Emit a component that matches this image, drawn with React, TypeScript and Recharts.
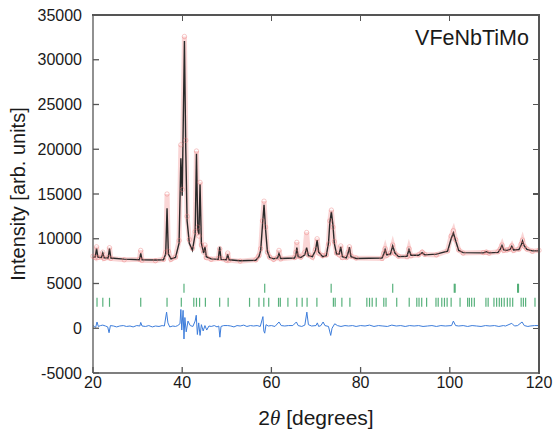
import {
  ComposedChart,
  Line,
  Scatter,
  XAxis,
  YAxis,
  Label,
} from "recharts";

// 2theta grid (deg) shared by the observed and calculated profiles
const tth = [
  20.0, 20.5, 20.8, 21.1, 21.9, 22.2, 22.5, 23.4, 23.7, 24.0, 27.0, 30.4, 30.7, 31.0,
  34.0, 35.8, 36.3, 36.6, 36.9, 37.5, 38.5, 39.3, 39.7, 40.0, 40.5, 40.8, 41.1, 41.6,
  42.3, 42.9, 43.2, 43.5, 43.75, 44.0, 44.3, 44.8, 45.1, 45.4, 46.5, 48.1, 48.4, 48.7,
  49.9, 50.2, 50.5, 53.0, 56.5, 57.2, 57.6, 58.0, 58.35, 58.7, 59.1, 59.6, 60.5, 61.4,
  61.7, 62.1, 65.2, 65.5, 65.7, 66.0, 66.6, 67.5, 67.9, 68.3, 69.2, 69.9, 70.25, 70.6,
  71.5, 72.3, 72.8, 73.1, 73.45, 73.8, 74.1, 74.6, 75.2, 75.55, 75.9, 76.8, 77.2, 77.5,
  77.85, 79.0, 84.8, 85.2, 85.5, 85.9, 86.7, 87.2, 87.7, 88.5, 90.4, 90.85, 91.3, 93.0,
  93.8, 94.4, 97.0, 99.5, 100.3, 100.8, 101.3, 102.0, 103.0, 107.5, 108.2, 108.8, 110.8,
  111.3, 111.7, 112.1, 112.8, 113.5, 113.9, 114.3, 115.5, 116.0, 116.3, 116.7, 117.3,
  118.5, 120.0,
];

const icalc = [
  7950, 7950, 8900, 7950, 7900, 8400, 7880, 7850, 8900, 7850, 7720, 7650, 8350, 7650,
  7620, 7650, 8300, 13400, 8300, 7750, 7900, 9500, 19000, 14800, 32100, 20000, 12000, 9500,
  8700, 10500, 19500, 11000, 10500, 16100, 9500, 8400, 9100, 8000, 7750, 7700, 9100, 7700,
  7650, 8250, 7650, 7550, 7600, 8000, 8700, 11500, 13800, 11000, 8600, 7900, 7750, 7850,
  8350, 7800, 7850, 8200, 9000, 8000, 7900, 8200, 9000, 8100, 8000, 8700, 9850, 8500,
  8000, 8100, 9500, 11800, 13000, 11500, 9500, 8300, 8300, 9100, 8000, 7850, 8400, 9050,
  8000, 7800, 7850, 8300, 8800, 8200, 8300, 9200, 8400, 8000, 8050, 8800, 8150, 8150,
  8450, 8200, 8280, 8600, 10000, 10650, 9800, 8700, 8450, 8420, 8550, 8420, 8480,
  8800, 9250, 8750, 8700, 8800, 9150, 8750, 8800, 9300, 9750, 9200, 8800,
  8650, 8650,
];

const iobs = [
  8050, 7900, 9100, 7900, 7950, 8500, 7800, 7900, 9000, 7800, 7650, 7700, 8700, 7600,
  7550, 7700, 8500, 15000, 8600, 7700, 7950, 9800, 20500, 15500, 32600, 21000, 12500, 9900,
  8900, 10800, 19800, 11300, 10300, 16300, 9300, 8500, 9300, 7900, 7700, 7800, 8900, 7800,
  7600, 8400, 7600, 7500, 7650, 8100, 8900, 12000, 14200, 11300, 8500, 7950, 7700, 7900,
  8700, 7750, 7900, 8500, 9600, 8050, 7950, 8500, 10700, 8200, 7950, 8800, 10000, 8400,
  8100, 8200, 9400, 12000, 13200, 11300, 9700, 8400, 8200, 9200, 7900, 7900, 8500, 9100,
  8050, 7850, 7800, 8400, 8900, 8150, 8400, 9300, 8350, 8050, 8000, 8900, 8100, 8200,
  8500, 8250, 8200, 8650, 10300, 10900, 9900, 8750, 8400, 8450, 8500, 8400, 8550,
  8850, 9300, 8700, 8750, 8850, 9200, 8700, 8850, 9400, 9850, 9150, 8850,
  8600, 8700,
];

// difference curve (obs - calc)
const diffTth = [
  20.0, 20.3, 20.6, 20.9, 21.2, 21.7, 22.2, 22.8, 23.3, 23.6, 23.9, 24.6, 25.3, 26.0,
  26.8, 27.5, 28.3, 29.0, 29.8, 30.5, 30.7, 31.0, 31.8, 32.5, 33.3, 34.0, 34.8, 35.5,
  36.0, 36.5, 36.8, 37.2, 37.9, 38.5, 39.0, 39.5, 39.7, 39.9, 40.2, 40.4, 40.6, 40.9,
  41.3, 41.8, 42.4, 42.9, 43.15, 43.4, 43.7, 44.0, 44.3, 44.7, 45.1, 45.5, 46.0, 46.5,
  47.2, 47.8, 48.2, 48.45, 48.7, 49.3, 50.2, 50.9, 51.6, 52.3, 53.0, 53.8, 54.5, 55.3,
  56.0, 56.8, 57.5, 58.1, 58.3, 58.5, 58.8, 59.3, 60.0, 60.8, 61.7, 62.2, 63.0, 63.8,
  64.8, 65.6, 66.0, 66.8, 67.5, 67.95, 68.3, 69.0, 70.0, 70.3, 70.6, 71.1, 71.6, 72.0,
  72.8, 73.3, 73.6, 74.2, 74.8, 75.6, 76.5, 77.3, 78.2, 79.0, 80.0, 81.0, 82.0, 83.0,
  84.0, 85.0, 86.0, 87.0, 88.0, 89.0, 90.0, 91.0, 92.0, 93.0, 94.0, 95.0, 96.0, 97.0,
  98.0, 99.0, 100.4, 100.8, 101.3, 102.0, 103.0, 104.0, 105.0, 106.0, 107.0, 108.0,
  109.0, 110.0, 111.0, 112.0, 112.5, 113.9, 114.5, 115.2, 116.2, 116.7, 117.5, 118.0,
  119.0, 120.0,
];
const diffVal = [
  300, 200, 100, 700, 200, 300, 350, 250, 150, -500, 300, 250, 150, 250,
  300, 200, 250, 150, 300, 250, 650, 250, 200, 300, 150, 250, 200, 300,
  250, 1800, 600, 150, 250, 200, 300, 500, 2100, -200, 2000, -1200, 1200, -400,
  800, 300, 200, 800, 1450, -700, 600, -800, 400, -300, 300, -200, 250, 200,
  300, 150, 250, -1000, 200, 300, 300, 250, 150, 300, 250, 350, 200, 300,
  250, 300, 200, 1300, -300, -550, 400, 250, 300, 200, 700, 300, 250, 300,
  300, 700, 300, 200, 350, 1800, 400, 250, 300, 600, 200, 300, 700, 300,
  200, -800, 0, 500, 300, 200, 300, 250, 300, 200, 300, 250, 350, 200,
  300, 250, 200, 350, 250, 300, 200, 300, 250, 300, 200, 250, 300, 200,
  300, 250, 300, 800, 300, 250, 300, 200, 300, 250, 200, 300,
  250, 300, 200, 300, 250, 550, 250, 300, 700, 300, 200, 250,
  300, 300,
];

// Bragg reflection positions
const phase1Pos = [40.4, 58.5, 73.4, 87.2, 101.0, 101.2, 115.2, 115.4];
const phase2Pos = [
  20.9, 22.2, 23.7, 30.7, 36.6, 39.8, 42.6, 43.2, 43.9, 45.2, 48.4, 50.3, 55.1, 57.2,
  58.3, 59.4, 61.6, 62.0, 63.7, 65.7, 66.9, 68.0, 70.2, 73.9, 74.3, 75.8, 77.6, 81.4,
  82.0, 82.6, 83.5, 85.2, 85.7, 88.1, 90.9, 92.6, 93.1, 93.7, 94.8, 96.9, 97.4, 98.2,
  98.8, 99.4, 100.3, 102.3, 104.0, 104.4, 104.9, 105.5, 108.1, 108.6, 109.9, 110.5,
  111.1, 111.6, 112.2, 112.9, 113.5, 114.1, 116.0, 116.5, 117.0, 119.1,
];
const phase1Level = 4470;
const phase2Level = 2900;

const xTicks = [20, 40, 60, 80, 100, 120];
const yTicks = [-5000, 0, 5000, 10000, 15000, 20000, 25000, 30000, 35000];
const X_MIN = 20;
const X_MAX = 120;
const Y_MIN = -5000;
const Y_MAX = 35000;

const profileData = tth.map((t, i) => ({ tth: t, obs: iobs[i], calc: icalc[i] }));
const diffData = diffTth.map((t, i) => ({ tth: t, diff: diffVal[i] }));
const phase1Data = phase1Pos.map((t) => ({ tth: t, y: phase1Level }));
const phase2Data = phase2Pos.map((t) => ({ tth: t, y: phase2Level }));

const W = 557;
const H = 432;
const MARGIN = { top: 15, right: 18, bottom: 0, left: 0 };
const X_AXIS_H = 59;
const Y_AXIS_W = 93;
// plot box, from the margins and axis sizes above
const PL = MARGIN.left + Y_AXIS_W;
const PR = W - MARGIN.right;
const PT = MARGIN.top;
const PB = H - MARGIN.bottom - X_AXIS_H;

const FONT = "'Liberation Sans', Arial, sans-serif";
const AXIS = "#555";
const TEXT = "#1a1a1a";
const TICK_LEN = 6;

// inward ticks: tickSize is 0, so the axis line sits tickMargin away from the label anchor
const BottomTick = (p: any) => (
  <g>
    <line x1={p.x} x2={p.x} y1={p.y - 4} y2={p.y - 4 - TICK_LEN} stroke={AXIS} strokeWidth={1.3} />
    <text x={p.x} y={p.y} dy="0.71em" textAnchor="middle" fontSize={16} fill={TEXT} fontFamily={FONT}>
      {p.payload.value}
    </text>
  </g>
);
const LeftTick = (p: any) => (
  <g>
    <line x1={p.x + 11} x2={p.x + 11 + TICK_LEN} y1={p.y} y2={p.y} stroke={AXIS} strokeWidth={1.3} />
    <text x={p.x} y={p.y} dy="0.355em" textAnchor="end" fontSize={16} fill={TEXT} fontFamily={FONT}>
      {p.payload.value}
    </text>
  </g>
);

const BraggTick = (props: any) => {
  const { cx, cy } = props;
  return (
    <line
      x1={cx}
      x2={cx}
      y1={cy - 4.5}
      y2={cy + 4.5}
      stroke="#2e9e5b"
      strokeOpacity={0.8}
      strokeWidth={1.2}
    />
  );
};

const px = (t: number) => PL + ((t - X_MIN) / (X_MAX - X_MIN)) * (PR - PL);
const py = (v: number) => PB - ((v - Y_MIN) / (Y_MAX - Y_MIN)) * (PB - PT);

// box frame (top and right edges) with mirrored inward ticks, as plain html boxes
function Frame() {
  const bar = { position: "absolute" as const, background: AXIS, pointerEvents: "none" as const };
  return (
    <>
      <div style={{ ...bar, left: PL - 1, top: PT - 1, width: PR - PL + 2, height: 1.5 }} />
      <div style={{ ...bar, left: PR - 0.75, top: PT - 1, width: 1.5, height: PB - PT + 2 }} />
      {xTicks.slice(1, -1).map((t) => (
        <div key={"t" + t} style={{ ...bar, left: px(t) - 0.65, top: PT, width: 1.3, height: TICK_LEN }} />
      ))}
      {yTicks.slice(1, -1).map((v) => (
        <div key={"r" + v} style={{ ...bar, left: PR - TICK_LEN, top: py(v) - 0.65, width: TICK_LEN, height: 1.3 }} />
      ))}
    </>
  );
}

export default function App() {
  return (
    <div style={{ position: "relative", width: W, height: H }}>
      <style>{"body{margin:0}"}</style>
      <ComposedChart width={W} height={H} margin={MARGIN} style={{ fontFamily: FONT }}>
        <XAxis
          dataKey="tth"
          type="number"
          domain={[X_MIN, X_MAX]}
          ticks={xTicks}
          height={X_AXIS_H}
          tickSize={0}
          tickMargin={4}
          stroke={AXIS}
          strokeWidth={1.3}
          tick={BottomTick}
        >
          <Label
            content={(p: any) => {
              const vb = p.viewBox;
              return (
                <text
                  x={vb.x + vb.width / 2}
                  y={vb.y + 52}
                  textAnchor="middle"
                  fontSize={21}
                  fill={TEXT}
                  fontFamily={FONT}
                >
                  <tspan>2</tspan>
                  <tspan fontStyle="italic" fontFamily="'Liberation Serif', serif">
                    θ
                  </tspan>
                  <tspan> [degrees]</tspan>
                </text>
              );
            }}
          />
        </XAxis>
        <YAxis
          type="number"
          domain={[Y_MIN, Y_MAX]}
          ticks={yTicks}
          width={Y_AXIS_W}
          tickSize={0}
          tickMargin={11}
          stroke={AXIS}
          strokeWidth={1.3}
          tick={LeftTick}
        >
          <Label
            value="Intensity [arb. units]"
            angle={-90}
            position="insideLeft"
            offset={18}
            style={{ textAnchor: "middle", fontSize: 20, fill: TEXT, fontFamily: FONT }}
          />
        </YAxis>
        <Line
          data={profileData}
          dataKey="obs"
          type="linear"
          stroke="#f08a8a"
          strokeOpacity={0.35}
          strokeWidth={5}
          dot={{ r: 2.2, stroke: "#ec7b7b", strokeOpacity: 0.5, fill: "none", strokeWidth: 0.8 }}
          isAnimationActive={false}
        />
        <Line
          data={profileData}
          dataKey="calc"
          type="linear"
          stroke="#2a2a2a"
          strokeWidth={1.4}
          dot={false}
          isAnimationActive={false}
        />
        <Line
          data={diffData}
          dataKey="diff"
          type="linear"
          stroke="#3d7ddb"
          strokeWidth={1}
          dot={false}
          isAnimationActive={false}
        />
        <Scatter data={phase1Data} dataKey="y" shape={BraggTick} isAnimationActive={false} />
        <Scatter data={phase2Data} dataKey="y" shape={BraggTick} isAnimationActive={false} />
      </ComposedChart>
      <Frame />
      <svg
        width={W}
        height={H}
        style={{ position: "absolute", left: 0, top: 0, pointerEvents: "none" }}
      >
        <text x={529} y={45} textAnchor="end" fontSize={21.5} fill={TEXT} fontFamily={FONT}>
          VFeNbTiMo
        </text>
      </svg>
    </div>
  );
}
